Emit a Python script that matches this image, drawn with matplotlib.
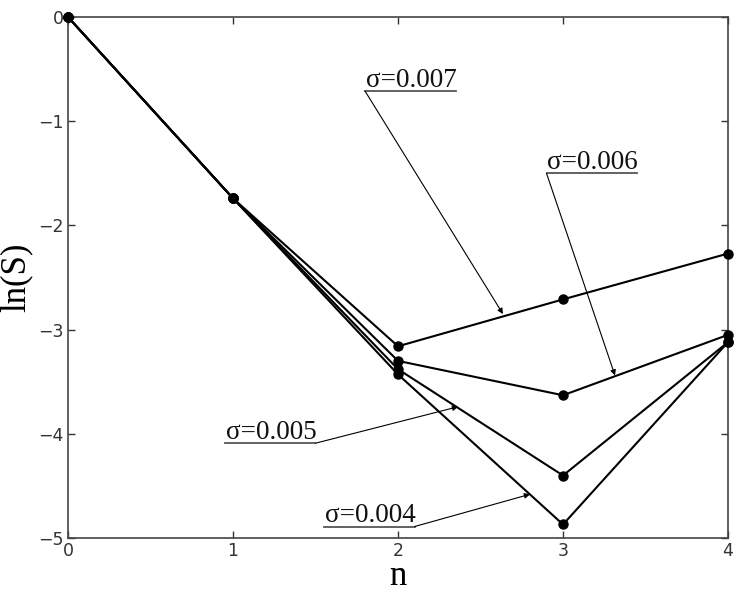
import numpy as np
import matplotlib.pyplot as plt

# ln(S) versus n for several sigma
n = [0, 1, 2, 3, 4]
s007 = [0.0, -1.74, -3.16, -2.71, -2.27]
s006 = [0.0, -1.74, -3.30, -3.63, -3.05]
s005 = [0.0, -1.74, -3.38, -4.40, -3.12]
s004 = [0.0, -1.74, -3.43, -4.87, -3.12]

labels = ['σ=0.007', 'σ=0.006', 'σ=0.005', 'σ=0.004']
# underline (x0, x1, y), arrow start side, arrow tip
underlines = [(1.80, 2.35, -0.71), (2.90, 3.45, -1.50), (0.95, 1.50, -4.09), (1.55, 2.10, -4.89)]
starts = ['left', 'left', 'right', 'right']
tips = [(2.636, -2.85), (3.315, -3.44), (2.364, -3.74), (2.80, -4.58)]

fig = plt.figure(figsize=(7.47, 5.99), dpi=100)
ax = fig.add_axes([0.091, 0.1018, 0.8836, 0.8698])

for s in [s007, s006, s005, s004]:
    ax.plot(n, s, color='black', lw=1.5, marker='o', ms=6.5, clip_on=False, zorder=3)

for lab, (x0, x1, y), side, tip in zip(labels, underlines, starts, tips):
    ax.plot([x0, x1], [y, y], color='#555555', lw=1.3, clip_on=False)
    ax.text(x0 + 0.005, y + 0.04, lab, family='Liberation Serif', fontsize=19.5,
            ha='left', va='baseline', color='#111111')
    xs = x0 if side == 'left' else x1
    ax.annotate('', xy=tip, xytext=(xs, y),
                arrowprops=dict(arrowstyle='-|>', lw=0.8, color='black',
                                mutation_scale=8, shrinkA=0, shrinkB=0))

ax.set_xlim(0, 4)
ax.set_ylim(-5, 0)
ax.set_xticks([0, 1, 2, 3, 4])
ax.set_yticks([-5, -4, -3, -2, -1, 0])
ax.set_yticklabels(['\u22125', '\u22124', '\u22123', '\u22122', '\u22121', '0'])
ax.tick_params(direction='in', length=5, width=1, top=True, right=True,
               labelsize=12.5, colors='#333333', pad=3)
for sp in ax.spines.values():
    sp.set_color('#444444')
    sp.set_linewidth(1.2)

ax.set_xlabel('n', family='Liberation Serif', fontsize=25, labelpad=0)
ax.set_ylabel('ln(S)', family='Liberation Serif', fontsize=25, labelpad=4)

fig.savefig('out.png', dpi=100)
